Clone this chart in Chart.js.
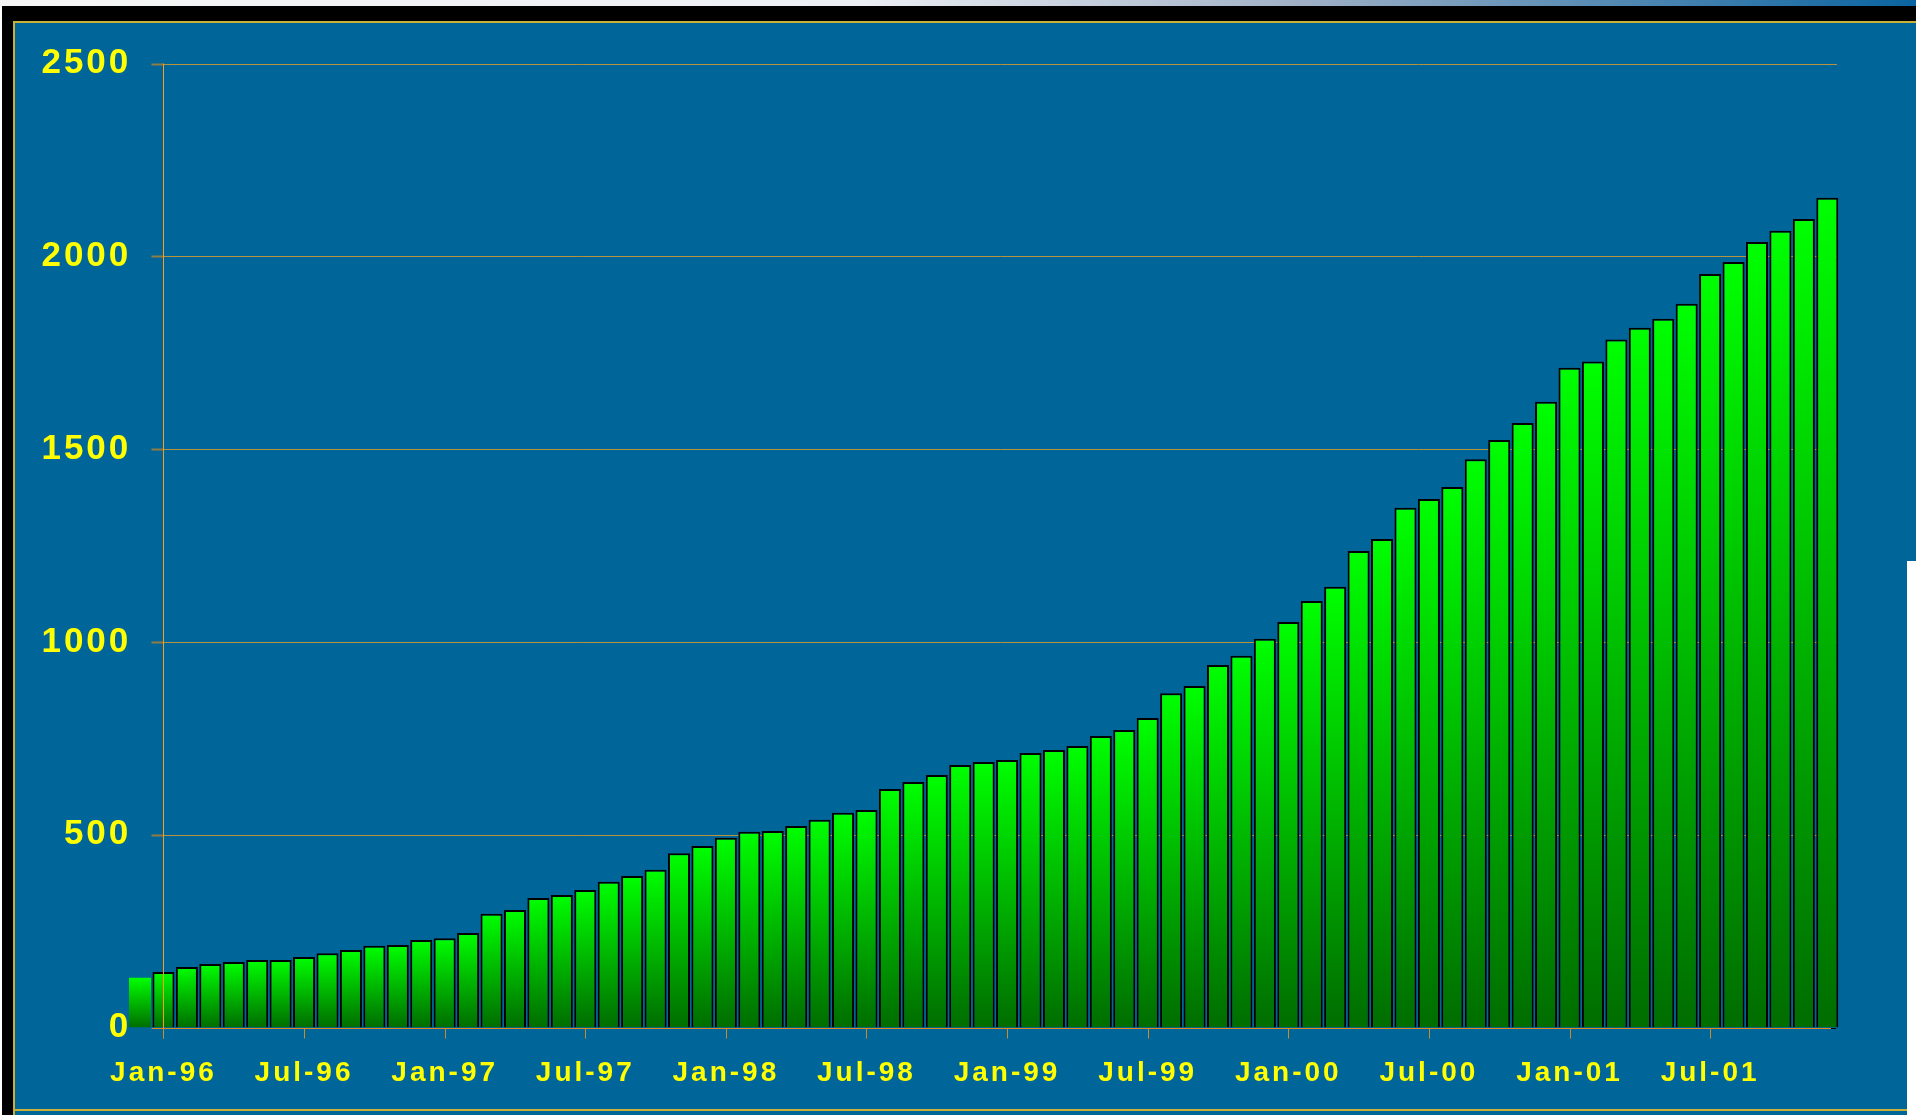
<!DOCTYPE html>
<html>
<head>
<meta charset="utf-8">
<title>Monthly totals 1996-2001</title>
<script src="https://cdn.jsdelivr.net/npm/chart.js@4.4.1/dist/chart.umd.min.js"></script>
<style>
  body { margin: 0; background: #fff; }
  #stage { position: relative; width: 1916px; height: 1115px; overflow: hidden; background: #fff; }
  #topStrip { position: absolute; left: 0; top: 0; width: 1916px; height: 6px;
    background: linear-gradient(to right, #f6f6f6 0%, #eceff4 45%, #9fb0c6 68%, #0a64a0 100%); }
  #frame { position: absolute; left: 2px; top: 6px; width: 1914px; height: 15px; background: #000; }
  #frameLeft { position: absolute; left: 2px; top: 6px; width: 11px; height: 1109px; background: #000; }
  #panel { position: absolute; left: 13px; top: 21px; width: 1894px; height: 1094px; box-sizing: border-box;
    background: #006699; border-left: 2px solid #c9b037; border-top: 2px solid #c9b037; }
  #panelRight { position: absolute; left: 1907px; top: 21px; width: 9px; height: 540px; box-sizing: border-box;
    background: #006699; border-top: 2px solid #c9b037; }
  #panelBottom { position: absolute; left: 13px; top: 1109px; width: 1894px; height: 2px; background: #c9b037; }
  #myChart { position: absolute; left: 0; top: 0; }
</style>
</head>
<body>
<div id="stage">
  <div id="topStrip"></div>
  <div id="frame"></div>
  <div id="frameLeft"></div>
  <div id="panel"></div>
  <div id="panelRight"></div>
  <div id="panelBottom"></div>
  <canvas id="myChart" width="1916" height="1115"></canvas>
</div>
<script>
// one bar per month, Dec-95 .. Dec-01
const months = [
  'Dec-95',
  'Jan-96', 'Feb-96', 'Mar-96', 'Apr-96', 'May-96', 'Jun-96', 'Jul-96', 'Aug-96', 'Sep-96', 'Oct-96', 'Nov-96', 'Dec-96',
  'Jan-97', 'Feb-97', 'Mar-97', 'Apr-97', 'May-97', 'Jun-97', 'Jul-97', 'Aug-97', 'Sep-97', 'Oct-97', 'Nov-97', 'Dec-97',
  'Jan-98', 'Feb-98', 'Mar-98', 'Apr-98', 'May-98', 'Jun-98', 'Jul-98', 'Aug-98', 'Sep-98', 'Oct-98', 'Nov-98', 'Dec-98',
  'Jan-99', 'Feb-99', 'Mar-99', 'Apr-99', 'May-99', 'Jun-99', 'Jul-99', 'Aug-99', 'Sep-99', 'Oct-99', 'Nov-99', 'Dec-99',
  'Jan-00', 'Feb-00', 'Mar-00', 'Apr-00', 'May-00', 'Jun-00', 'Jul-00', 'Aug-00', 'Sep-00', 'Oct-00', 'Nov-00', 'Dec-00',
  'Jan-01', 'Feb-01', 'Mar-01', 'Apr-01', 'May-01', 'Jun-01', 'Jul-01', 'Aug-01', 'Sep-01', 'Oct-01', 'Nov-01', 'Dec-01'
];

const totals = [
  129,
  144, 157, 165, 170, 175, 175, 183, 193, 201, 212, 214, 227,
  232, 245, 295, 305, 336, 344, 357, 378, 393, 409, 452, 471,
  492, 508, 510, 523, 539, 557, 564, 619, 637, 655, 681, 689,
  694, 712, 720, 730, 756, 772, 803, 867, 886, 940, 964, 1008,
  1052, 1106, 1143, 1236, 1267, 1348, 1371, 1402, 1474, 1524, 1568, 1623,
  1711, 1727, 1784, 1815, 1838, 1877, 1954, 1985, 2037, 2066, 2097, 2152
];

// only these month labels get a tick + text
const shownLabels = ['Jan-96', 'Jul-96', 'Jan-97', 'Jul-97', 'Jan-98', 'Jul-98', 'Jan-99', 'Jul-99',
  'Jan-00', 'Jul-00', 'Jan-01', 'Jul-01'];

const yTicks = [0, 500, 1000, 1500, 2000, 2500];

// grid, axis lines and tick marks, drawn the way the old slide had them
const axisLines = {
  id: 'axisLines',
  beforeDraw(chart) {
    chart.ctx.letterSpacing = '3px';
  },
  beforeDatasetsDraw(chart) {
    let c = chart.ctx;
    let area = chart.chartArea;
    let x0 = chart.scales.x.getPixelForValue(months.indexOf('Jan-96'));
    c.save();
    for (let v of yTicks) {
      if (v === 0) continue;
      let py = Math.round(chart.scales.y.getPixelForValue(v)) + 0.5;
      c.strokeStyle = '#b8923c';
      c.lineWidth = 1;
      c.beginPath();
      c.moveTo(x0, py);
      c.lineTo(area.right - 2, py);
      c.stroke();
      c.strokeStyle = '#8f7c42';
      c.lineWidth = 2;
      c.beginPath();
      c.moveTo(x0 - 12, py);
      c.lineTo(x0, py);
      c.stroke();
    }
    c.restore();
  },
  afterDatasetsDraw(chart) {
    let c = chart.ctx;
    let area = chart.chartArea;
    let x0 = Math.round(chart.scales.x.getPixelForValue(months.indexOf('Jan-96'))) + 0.5;
    let by = Math.round(area.bottom) + 0.5;
    c.save();
    c.lineWidth = 1;
    // value axis
    c.strokeStyle = '#ff9a1a';
    c.beginPath();
    c.moveTo(x0, area.top);
    c.lineTo(x0, by + 10);
    c.stroke();
    // category axis
    c.strokeStyle = '#e08a1e';
    c.beginPath();
    c.moveTo(x0 - 12, by);
    c.lineTo(area.right - 8, by);
    c.stroke();
    c.strokeStyle = '#000';
    c.beginPath();
    c.moveTo(area.right - 8, by);
    c.lineTo(area.right - 3, by);
    c.stroke();
    c.strokeStyle = '#d08a2a';
    for (let lbl of shownLabels) {
      let px = Math.round(chart.scales.x.getPixelForValue(months.indexOf(lbl))) + 0.5;
      c.beginPath();
      c.moveTo(px, by);
      c.lineTo(px, by + 10);
      c.stroke();
    }
    c.restore();
  }
};

var ctx = document.getElementById('myChart').getContext('2d');

// eslint-disable-next-line no-undef
var chart = new Chart(ctx, {
  type: 'bar',
  data: {
    labels: months,
    datasets: [{
      label: 'Total',
      data: totals,
      // bright green at the top of each bar, dark green at the base
      backgroundColor: function(context) {
        let ch = context.chart;
        if (!ch.chartArea) return '#00cc00';
        let top = ch.scales.y.getPixelForValue(context.raw);
        let base = ch.scales.y.getPixelForValue(0);
        let g = ch.ctx.createLinearGradient(0, top, 0, base);
        g.addColorStop(0, '#00ff00');
        g.addColorStop(1, '#006d00');
        return g;
      },
      borderColor: '#000000',
      borderWidth: function(context) {
        return context.dataIndex === 0 ? 0 : 2;
      },
      barPercentage: 0.94,
      categoryPercentage: 1,
    }]
  },
  plugins: [axisLines],
  options: {
    responsive: false,
    animation: false,
    layout: {
      padding: { left: 18.3, top: 63.5, right: 77, bottom: 27.4 }
    },
    plugins: {
      legend: { display: false },
      tooltip: { enabled: false }
    },
    scales: {
      x: {
        offset: true,
        grid: { display: false, drawTicks: false },
        border: { display: false },
        afterFit: function(scale) { scale.height = 60; },
        ticks: {
          autoSkip: false,
          maxRotation: 0,
          minRotation: 0,
          padding: 29,
          color: '#ffff00',
          font: { family: 'Liberation Sans, Arial, sans-serif', size: 28, weight: 'bold' },
          callback: function(value, index) {
            let m = months[index];
            return shownLabels.includes(m) ? m : '';
          }
        }
      },
      y: {
        min: 0,
        max: 2500,
        grid: { display: false, drawTicks: false },
        border: { display: false },
        afterFit: function(scale) { scale.width = 110; },
        ticks: {
          stepSize: 500,
          padding: -3,
          color: '#ffff00',
          font: { family: 'Liberation Sans, Arial, sans-serif', size: 35, weight: 'bold' },
          callback: function(value) {
            return String(value);
          }
        }
      }
    }
  }
});
</script>
</body>
</html>
